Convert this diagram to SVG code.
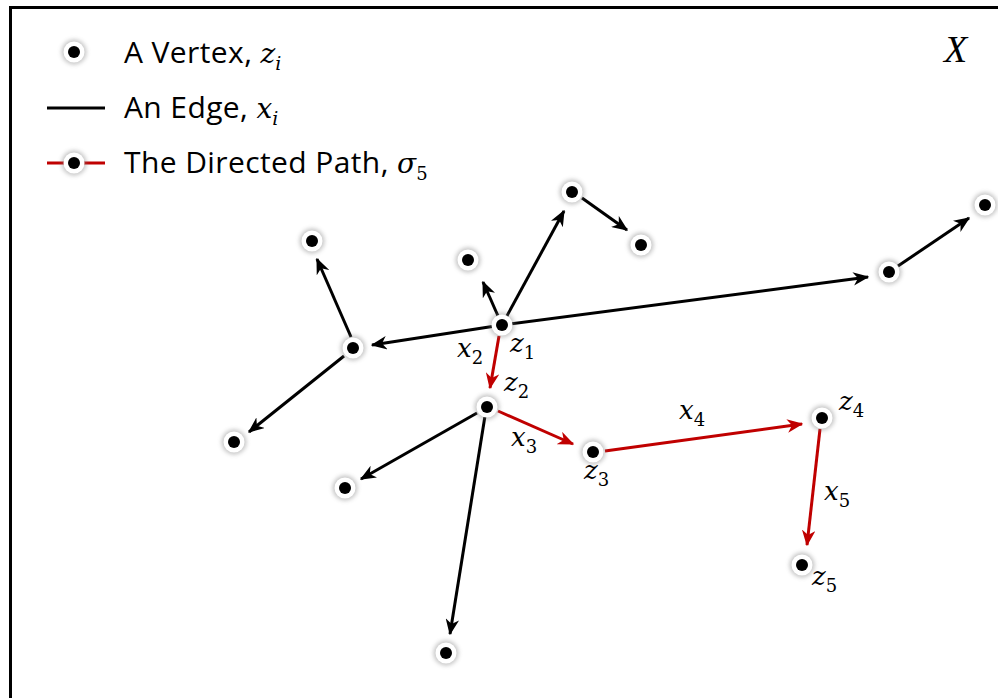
<svg xmlns="http://www.w3.org/2000/svg" xmlns:xlink="http://www.w3.org/1999/xlink" width="998" height="698" viewBox="0 0 998 698">
  <style>
    .frame { fill: none; stroke: #000; stroke-width: 3; }
    .edge { fill: none; stroke: #000; stroke-width: 3; }
    .path { fill: none; stroke: #c00000; stroke-width: 3; }
    .legend { font-family: "Open Sans", "Liberation Sans", sans-serif; font-size: 30px; letter-spacing: 0.4px; fill: #000; }
    .lm { font-family: "DejaVu Serif", "Liberation Serif", serif; font-style: italic; font-size: 28px; letter-spacing: 0; }
    .math { font-family: "DejaVu Serif", "Liberation Serif", serif; font-style: italic; font-size: 26px; fill: #000; }
    .sub { font-family: "DejaVu Serif", "Liberation Serif", serif; font-style: normal; font-size: 18px; }
    .subi { font-family: "DejaVu Serif", "Liberation Serif", serif; font-style: italic; font-size: 19px; }
    .big { font-family: "Liberation Serif", "DejaVu Serif", serif; font-style: italic; font-size: 38px; fill: #000; }
  </style>
  <defs>
    <filter id="glow" x="-50%" y="-50%" width="200%" height="200%">
      <feGaussianBlur stdDeviation="2.2"/>
    </filter>
    <g id="vtx">
      <circle r="12.5" fill="#808080" opacity="0.45" filter="url(#glow)"/>
      <circle r="10.5" fill="#fff"/>
      <circle r="6" fill="#000"/>
    </g>
    <marker id="ah" viewBox="0 0 12 10" refX="11" refY="5" markerWidth="5.4" markerHeight="4.5" markerUnits="strokeWidth" orient="auto">
      <path d="M0,0 L12,5 L0,10 L3.5,5 z" fill="#000"/>
    </marker>
    <marker id="ahr" viewBox="0 0 12 10" refX="11" refY="5" markerWidth="5.4" markerHeight="4.5" markerUnits="strokeWidth" orient="auto">
      <path d="M0,0 L12,5 L0,10 L3.5,5 z" fill="#c00000"/>
    </marker>
  </defs>

  <rect width="998" height="698" fill="#fff"/>
  <!-- border -->
  <path class="frame" d="M10.5,700 V7.5 H1000"/>

  <!-- legend -->
  <g id="legend">
    <use xlink:href="#vtx" x="74" y="52"/>
    <text class="legend" x="124" y="63">A Vertex, <tspan class="lm">z<tspan class="subi" dy="7">i</tspan></tspan></text>
    <line x1="47" y1="108" x2="105" y2="108" stroke="#000" stroke-width="3"/>
    <text class="legend" x="124" y="118">An Edge, <tspan class="lm">x<tspan class="subi" dy="7">i</tspan></tspan></text>
    <line x1="47" y1="163" x2="105" y2="163" stroke="#c00000" stroke-width="3"/>
    <use xlink:href="#vtx" x="74" y="163"/>
    <text class="legend" x="124" y="173">The Directed Path, <tspan class="lm">σ<tspan class="sub" dy="7" font-size="20">5</tspan></tspan></text>
  </g>

  <text class="big" x="944" y="62">X</text>

  <!-- connectors -->
  <g id="edges">
    <line class="edge" x1="502" y1="325" x2="483" y2="282" marker-end="url(#ah)"/>
    <line class="edge" x1="502" y1="325" x2="564" y2="211" marker-end="url(#ah)"/>
    <line class="edge" x1="582" y1="198" x2="627" y2="230" marker-end="url(#ah)"/>
    <line class="edge" x1="502" y1="325" x2="868" y2="277" marker-end="url(#ah)"/>
    <line class="edge" x1="898" y1="266" x2="969" y2="218" marker-end="url(#ah)"/>
    <line class="edge" x1="502" y1="325" x2="372" y2="345" marker-end="url(#ah)"/>
    <line class="edge" x1="351" y1="337" x2="317" y2="259" marker-end="url(#ah)"/>
    <line class="edge" x1="344" y1="356" x2="249" y2="432" marker-end="url(#ah)"/>
    <line class="edge" x1="477" y1="413" x2="361" y2="479" marker-end="url(#ah)"/>
    <line class="edge" x1="485" y1="416" x2="450" y2="634" marker-end="url(#ah)"/>
    <line class="path" x1="499" y1="336" x2="490" y2="388" marker-end="url(#ahr)"/>
    <line class="path" x1="498" y1="411" x2="573" y2="444" marker-end="url(#ahr)"/>
    <line class="path" x1="605" y1="451" x2="802" y2="424" marker-end="url(#ahr)"/>
    <line class="path" x1="820" y1="429" x2="807" y2="545" marker-end="url(#ahr)"/>
  </g>

  <!-- vertices -->
  <g id="z1"><use xlink:href="#vtx" x="502" y="325"/></g>
  <g id="z2"><use xlink:href="#vtx" x="487" y="407"/></g>
  <g id="z3"><use xlink:href="#vtx" x="593" y="452"/></g>
  <g id="z4"><use xlink:href="#vtx" x="822" y="418"/></g>
  <g id="z5"><use xlink:href="#vtx" x="802" y="565"/></g>
  <g id="va"><use xlink:href="#vtx" x="312" y="241"/></g>
  <g id="vb"><use xlink:href="#vtx" x="468" y="260"/></g>
  <g id="vc"><use xlink:href="#vtx" x="572" y="192"/></g>
  <g id="vd"><use xlink:href="#vtx" x="641" y="245"/></g>
  <g id="ve"><use xlink:href="#vtx" x="889" y="272"/></g>
  <g id="vf"><use xlink:href="#vtx" x="985" y="205"/></g>
  <g id="vg"><use xlink:href="#vtx" x="353" y="348"/></g>
  <g id="vh"><use xlink:href="#vtx" x="234" y="442"/></g>
  <g id="vi"><use xlink:href="#vtx" x="345" y="488"/></g>
  <g id="vj"><use xlink:href="#vtx" x="446" y="653"/></g>

  <!-- labels -->
  <g id="labels">
    <text class="math" x="457" y="357">x<tspan class="sub" dy="7">2</tspan></text>
    <text class="math" x="510" y="352">z<tspan class="sub" dy="7">1</tspan></text>
    <text class="math" x="504" y="391">z<tspan class="sub" dy="7">2</tspan></text>
    <text class="math" x="511" y="446">x<tspan class="sub" dy="7">3</tspan></text>
    <text class="math" x="584" y="479">z<tspan class="sub" dy="7">3</tspan></text>
    <text class="math" x="679" y="419">x<tspan class="sub" dy="7">4</tspan></text>
    <text class="math" x="839" y="410">z<tspan class="sub" dy="7">4</tspan></text>
    <text class="math" x="824" y="500">x<tspan class="sub" dy="7">5</tspan></text>
    <text class="math" x="812" y="585">z<tspan class="sub" dy="7">5</tspan></text>
  </g>
</svg>
